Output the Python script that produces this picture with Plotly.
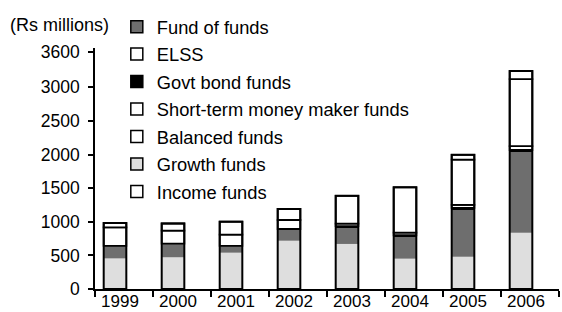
import numpy as np
import plotly.graph_objects as go

# ---- data (Rs millions) ----
years = ["1999", "2000", "2001", "2002", "2003", "2004", "2005", "2006"]
growth_funds = [455, 472, 540, 718, 670, 451, 480, 837]
fund_of_funds = [185, 202, 100, 174, 238, 318, 705, 1205]
govt_bond_funds = [None, None, None, None, 28, 30, 20, 25]
short_term_money_maker_funds = [None, None, None, None, 37, 40, 45, 59]
income_funds = [275, 195, 168, 134, 412, 673, 675, 995]
balanced_funds = [65, 105, 193, 164, None, None, 70, 120]
elss = [None, None, None, None, None, None, None, None]

y_tick_labels = ["0", "500", "1000", "1500", "2000", "2500", "3000", "3600"]
y_tick_positions = [0, 500, 1000, 1500, 2000, 2500, 3000, 3525]

LIGHT = "#dedede"
DARK = "#6e6e6e"
BLACK = "#000000"
WHITE = "#ffffff"

# stacking order, bottom to top
stack = [
    ("Growth funds", growth_funds, LIGHT, 0),
    ("Fund of funds", fund_of_funds, DARK, 0),
    ("Govt bond funds", govt_bond_funds, BLACK, 0),
    ("Short-term money maker funds", short_term_money_maker_funds, WHITE, 1.8),
    ("Income funds", income_funds, WHITE, 1.8),
    ("Balanced funds", balanced_funds, WHITE, 1.8),
    ("ELSS", elss, WHITE, 1.8),
]

legend_order = ["Fund of funds", "ELSS", "Govt bond funds",
                "Short-term money maker funds", "Balanced funds",
                "Growth funds", "Income funds"]
colors = {name: col for name, _, col, _ in stack}

FONT = "Liberation Sans, Arial, Helvetica, sans-serif"
FS = 17.5
LFS = 18.3
BAR_W = 0.39
BAR_OFF = -0.35

fig = go.Figure()

base = np.zeros(len(years))
for name, vals, col, lw in stack:
    v = np.array([np.nan if a is None else a for a in vals], dtype=float)
    fig.add_trace(go.Bar(
        x=years, y=[None if np.isnan(a) else a for a in v], base=base.copy(),
        marker=dict(color=col, line=dict(color=BLACK, width=lw)),
        width=BAR_W, offset=BAR_OFF, showlegend=False, name=name,
    ))
    base = base + np.nan_to_num(v)

# outline of each full bar
fig.add_trace(go.Bar(
    x=years, y=base, base=np.zeros(len(years)),
    marker=dict(color="rgba(0,0,0,0)", line=dict(color=BLACK, width=2)),
    width=BAR_W, offset=BAR_OFF, showlegend=False, hoverinfo="skip",
))

# legend entries
for i, name in enumerate(legend_order):
    fig.add_trace(go.Bar(
        x=[None], y=[None], name=name, legendgroup=name, legendrank=i + 1,
        marker=dict(color=colors[name], line=dict(color=BLACK, width=1.5)),
    ))

fig.update_layout(
    width=562, height=312,
    margin=dict(l=95, r=3, t=48, b=23, autoexpand=False),
    paper_bgcolor="white", plot_bgcolor="white",
    barmode="overlay",
    font=dict(family=FONT, size=FS, color="black"),
    showlegend=True,
    legend=dict(
        x=0.047, xanchor="left", y=1.165, yanchor="top",
        font=dict(family=FONT, size=LFS, color="black"),
        bgcolor="rgba(0,0,0,0)", borderwidth=0,
        traceorder="grouped", tracegroupgap=0.7, maxheight=300,
    ),
    xaxis=dict(
        type="category", range=[-0.5, 7.5],
        showline=True, linecolor=BLACK, linewidth=1.8,
        ticks="outside", tickson="boundaries", ticklen=6, tickwidth=1.5,
        tickcolor=BLACK, showgrid=False, zeroline=False,
        tickfont=dict(family=FONT, size=17), ticklabelshift=-4,
        ticklabelstandoff=-4,
    ),
    yaxis=dict(
        range=[0, 3584],
        showline=True, linecolor=BLACK, linewidth=1.8,
        ticks="outside", ticklen=5, tickwidth=1.5, tickcolor=BLACK,
        tickvals=y_tick_positions,
        ticktext=[t + "\u00a0" for t in y_tick_labels],
        showgrid=False, zeroline=False,
        tickfont=dict(family=FONT, size=FS),
    ),
    annotations=[dict(
        text="(Rs millions)", xref="paper", yref="paper",
        x=0.0345, y=1.095, xanchor="right", yanchor="middle",
        showarrow=False, font=dict(family=FONT, size=18),
    )],
)

fig.write_html(
    "out.html",
    config={"displayModeBar": False},
    post_script="document.body.style.margin='0';document.body.style.overflow='hidden';",
)
